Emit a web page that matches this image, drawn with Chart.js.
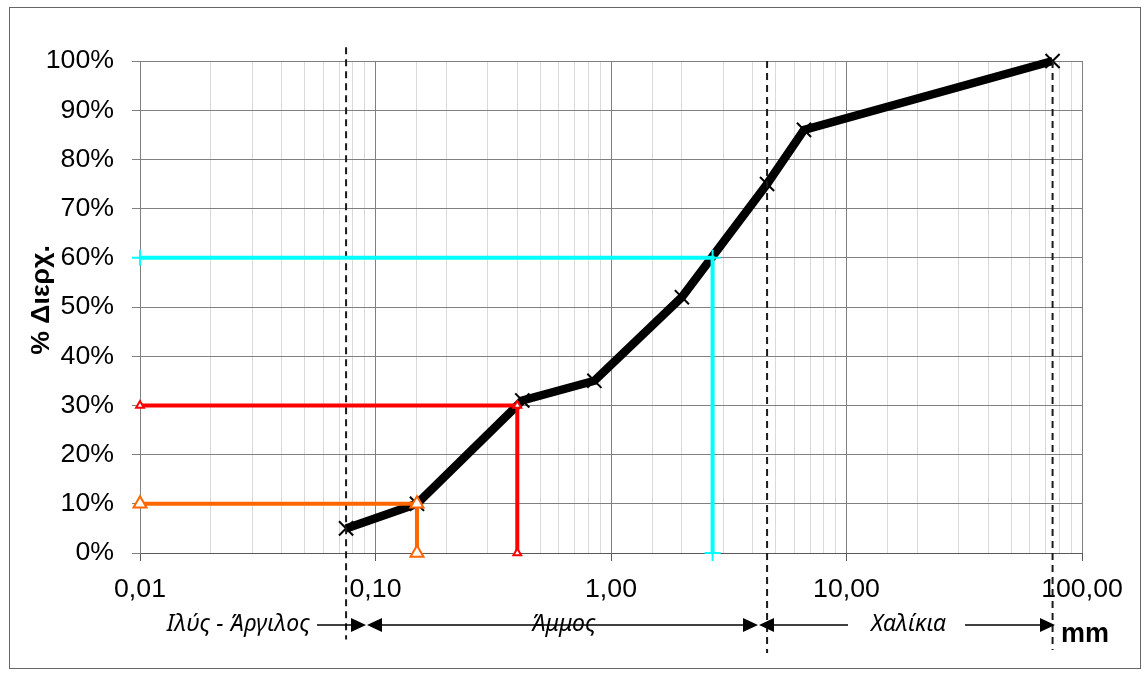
<!DOCTYPE html>
<html>
<head>
<meta charset="utf-8">
<script src="https://cdn.jsdelivr.net/npm/chart.js@4.4.1/dist/chart.umd.min.js"></script>
<style>
  html, body { margin: 0; padding: 0; background: #fff; }
  canvas { display: block; }
</style>
</head>
<body>
<canvas id="grading" width="1145" height="675"></canvas>
<script>
// Κοκκομετρική καμπύλη: διάμετρος κόκκων (mm) και ποσοστό διερχομένου
const sieveSizes = [0.075, 0.15, 0.42, 0.85, 2.0, 4.6, 6.6, 75];
const passing    = [5, 10, 31, 35, 52, 75, 86, 100];

// Χαρακτηριστικές διάμετροι D60, D30, D10
const charPercents  = [60, 30, 10];
const charDiameters = [2.7, 0.40, 0.15];

// Όρια κατηγοριών υλικού (Ιλύς-Άργιλος / Άμμος / Χαλίκια)
const classBounds = [0.075, 4.6, 75];

// Άξονες
const xTickValues = [0.01, 0.1, 1, 10, 100];
const yTickValues = [0, 10, 20, 30, 40, 50, 60, 70, 80, 90, 100];

const X_MIN = xTickValues[0], X_MAX = xTickValues[xTickValues.length - 1];
const FONT = '"Liberation Sans", Arial, sans-serif';

const isDecade = v => Math.abs(Math.log10(v) - Math.round(Math.log10(v))) < 1e-9;

// Γραμμές αναφοράς για D60 / D30 / D10
const refStyles = [
  { color: '#00FFFF', style: 'cross',    radius: 8,   fill: '#00FFFF' },
  { color: '#FF0000', style: 'triangle', radius: 4.5, fill: '#FFFFFF' },
  { color: '#FF6600', style: 'triangle', radius: 7.5, fill: '#FFFFFF' }
];
const refDatasets = charPercents.map((p, i) => ({
  data: [{ x: X_MIN, y: p }, { x: charDiameters[i], y: p }, { x: charDiameters[i], y: 0 }],
  borderColor: refStyles[i].color,
  borderWidth: 4,
  pointStyle: refStyles[i].style,
  pointRadius: refStyles[i].radius,
  pointBorderColor: refStyles[i].color,
  pointBackgroundColor: refStyles[i].fill,
  pointBorderWidth: 2,
  clip: false
}));

// Διακεκομμένες κατακόρυφες στα όρια κατηγοριών
const boundExtent = [[102.8, -17.6], [100, -20.3], [100, -19.7]];
const boundDatasets = classBounds.map((d, i) => ({
  data: [{ x: d, y: boundExtent[i][0] }, { x: d, y: boundExtent[i][1] }],
  borderColor: '#1a1a1a',
  borderWidth: 2,
  borderDash: [7, 5],
  pointRadius: 0,
  clip: false
}));

const curveDataset = {
  data: sieveSizes.map((d, i) => ({ x: d, y: passing[i] })),
  borderColor: '#000',
  borderWidth: 8.5,
  pointStyle: 'crossRot',
  pointRadius: 10,
  pointBorderColor: '#000',
  pointBorderWidth: 2,
  clip: false
};

// Διακόσμηση: πλαίσιο, τίτλος άξονα y, βέλη κατηγοριών
const decorations = {
  id: 'decorations',
  beforeDraw(chart) {
    const ctx = chart.ctx;
    ctx.save();
    ctx.fillStyle = '#fff';
    ctx.fillRect(0, 0, chart.width, chart.height);
    ctx.restore();
  },
  afterDraw(chart) {
    const ctx = chart.ctx;
    ctx.save();
    // πλαίσιο
    ctx.strokeStyle = '#666';
    ctx.lineWidth = 1;
    ctx.strokeRect(9.5, 7.5, 1131, 661);

    // τίτλος άξονα y
    ctx.save();
    ctx.translate(42, 300);
    ctx.rotate(-Math.PI / 2);
    ctx.font = 'bold 26.7px ' + FONT;
    ctx.fillStyle = '#000';
    ctx.textAlign = 'center';
    ctx.textBaseline = 'middle';
    ctx.fillText('% Διερχ.', 0, 0);
    ctx.restore();

    // βέλη κατηγοριών
    const y = 625;
    ctx.strokeStyle = '#000';
    ctx.fillStyle = '#000';
    ctx.lineWidth = 1.5;
    const seg = (a, b) => { ctx.beginPath(); ctx.moveTo(a, y); ctx.lineTo(b, y); ctx.stroke(); };
    const head = (tip, dir) => {
      ctx.beginPath();
      ctx.moveTo(tip, y);
      ctx.lineTo(tip - dir * 15, y - 7);
      ctx.lineTo(tip - dir * 15, y + 7);
      ctx.closePath();
      ctx.fill();
    };
    seg(317, 352); head(366, 1);
    head(367, -1); seg(381, 744); head(758, 1);
    head(759, -1); seg(773, 848);
    seg(965, 1042); head(1055, 1);

    ctx.font = 'italic 23px "Noto Sans", "Open Sans", sans-serif';
    ctx.textBaseline = 'middle';
    ctx.textAlign = 'right';
    ctx.fillText('Ιλύς - Άργιλος', 310, 624);
    ctx.textAlign = 'left';
    ctx.fillText('Άμμος', 531, 624);
    ctx.fillText('Χαλίκια', 871, 624);

    ctx.font = 'bold 27px ' + FONT;
    ctx.textBaseline = 'alphabetic';
    ctx.fillText('mm', 1061, 642);
    ctx.restore();
  }
};

new Chart(document.getElementById('grading'), {
  type: 'line',
  data: { datasets: [...refDatasets, ...boundDatasets, curveDataset] },
  options: {
    responsive: false,
    animation: false,
    devicePixelRatio: 1,
    layout: { padding: { top: 61, right: 63, left: 0, bottom: 0 } },
    plugins: { legend: { display: false }, tooltip: { enabled: false } },
    elements: { line: { tension: 0, fill: false } },
    scales: {
      x: {
        type: 'logarithmic',
        min: X_MIN,
        max: X_MAX,
        afterFit(scale) { scale.height = 122; },
        border: { display: true, color: '#595959', width: 1 },
        grid: {
          color: c => (c.tick && isDecade(c.tick.value)) ? '#808080' : '#D9D9D9',
          tickColor: c => (c.tick && isDecade(c.tick.value)) ? '#595959' : 'rgba(0,0,0,0)',
          tickLength: 8,
          lineWidth: 1
        },
        ticks: {
          autoSkip: false,
          maxRotation: 0,
          padding: 13,
          color: '#000',
          font: { family: FONT, size: 26.7 },
          callback: v => xTickValues.some(t => Math.abs(t - v) < 1e-12) ? v.toFixed(2).replace('.', ',') : ''
        }
      },
      y: {
        min: yTickValues[0],
        max: yTickValues[yTickValues.length - 1],
        afterFit(scale) { scale.width = 140; },
        afterBuildTicks(scale) { scale.ticks = yTickValues.map(v => ({ value: v })); },
        border: { display: true, color: '#808080', width: 1 },
        grid: { color: '#808080', tickColor: '#808080', tickLength: 8, lineWidth: 1 },
        ticks: {
          padding: 18,
          color: '#000',
          font: { family: FONT, size: 26.7 },
          callback: v => v + '%'
        }
      }
    }
  },
  plugins: [decorations]
});
</script>
</body>
</html>
